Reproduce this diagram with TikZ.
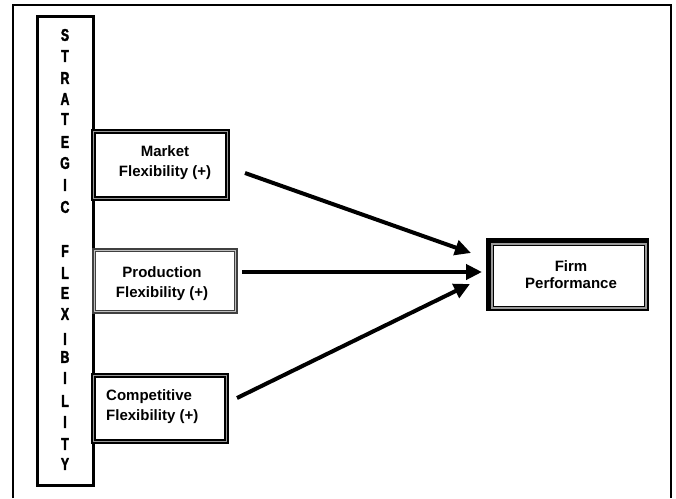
\documentclass[tikz,border=0pt]{standalone}
\usepackage{fontspec}
\setmainfont{Liberation Sans}
\newfontfamily\spinefont[FakeStretch=0.72,FakeBold=2]{Liberation Sans Bold}
\usetikzlibrary{arrows.meta}

\tikzset{
  frameline/.style={line width=1.6pt, black},
  spine/.style={draw, line width=3pt, inner sep=0pt},
  spineletter/.style={inner sep=0pt, font=\spinefont\fontsize{17}{17}\selectfont},
  boxtext/.style={inner sep=0pt, font=\fontsize{15}{20}\selectfont\bfseries},
  heavybox/.style={draw, line width=4pt, inner sep=0pt},
  lightbox/.style={draw=black!75, line width=1.2pt, inner sep=0pt},
  innerline/.style={line width=1.1pt, black},
  stripe/.style={line width=2pt, black!40},
  link/.style={line width=4pt, -{Triangle[length=16pt,width=15pt]}}
}

\begin{document}
\begin{tikzpicture}[x=1pt,y=-1pt]
  \useasboundingbox[fill=white] (0,0) rectangle (676,498);

  % open outer frame
  \draw[frameline] (13,498) -- (13,5) -- (671,5) -- (671,498);

  % vertical spine box
  \node[spine, minimum width=56pt, minimum height=469pt] (spine) at (65,250.5) {};
  \foreach \ch/\yy [count=\i] in {S/35,T/56,R/78,A/99,T/119,E/142,G/163,I/185,C/207,
      F/251,L/273,E/293,X/314,I/339,B/357,I/378,L/401,I/422,T/444,Y/464}
    \node[spineletter] (sl\i) at (65,\yy) {\ch};

  % market flexibility
  \node[heavybox, minimum width=135pt, minimum height=68pt] (market) at (160.5,165) {};
  \draw[stripe] ([shift={(2.8,2.8)}]market.north west) rectangle ([shift={(-2.8,-2.8)}]market.south east);
  \draw[innerline] ([shift={(4,4)}]market.north west) rectangle ([shift={(-4,-4)}]market.south east);
  \node[boxtext, align=center] (markettxt) at (165,163) {Market\\Flexibility (+)};

  % production flexibility
  \node[lightbox, minimum width=144pt, minimum height=64pt] (production) at (165,281) {};
  \draw[line width=1.5pt, black!25] ([shift={(2.2,2.2)}]production.north west) rectangle ([shift={(-2.2,-2.2)}]production.south east);
  \draw[line width=1pt, black!75] ([shift={(3.5,3.5)}]production.north west) rectangle ([shift={(-3.5,-3.5)}]production.south east);
  \node[boxtext, align=center] (productiontxt) at (162,284) {Production\\Flexibility (+)};

  % competitive flexibility
  \node[heavybox, minimum width=134pt, minimum height=67pt] (competitive) at (160,408.5) {};
  \draw[stripe] ([shift={(2.8,2.8)}]competitive.north west) rectangle ([shift={(-2.8,-2.8)}]competitive.south east);
  \draw[innerline] ([shift={(4,4)}]competitive.north west) rectangle ([shift={(-4,-4)}]competitive.south east);
  \node[boxtext, align=left, anchor=west] (competitivetxt) at (106,407) {Competitive\\Flexibility (+)};

  % firm performance
  \node[draw, line width=1.4pt, inner sep=0pt, minimum width=161pt, minimum height=71pt] (firm) at (567.5,274.5) {};
  \draw[line width=5pt] ([shift={(2.5,0)}]firm.south west) -- ([shift={(2.5,2.5)}]firm.north west) -- ([shift={(0,2.5)}]firm.north east);
  \draw[line width=1.5pt, black!40] ([shift={(5.5,5.5)}]firm.north west) rectangle ([shift={(-2.5,-2.5)}]firm.south east);
  \draw[innerline] ([shift={(7,7)}]firm.north west) rectangle ([shift={(-4,-4)}]firm.south east);
  \node[boxtext, align=center, font=\fontsize{15}{17}\selectfont\bfseries] (firmtxt) at (571,275) {Firm\\Performance};

  % connector end points
  \coordinate (m-out) at (245,173);
  \coordinate (p-out) at (242,272);
  \coordinate (c-out) at (237,398);
  \coordinate (m-in) at (471,253);
  \coordinate (p-in) at (482,272);
  \coordinate (c-in) at (470,284);

  \draw[link] (m-out) -- (m-in);
  \draw[link] (p-out) -- (p-in);
  \draw[link] (c-out) -- (c-in);
\end{tikzpicture}
\end{document}
